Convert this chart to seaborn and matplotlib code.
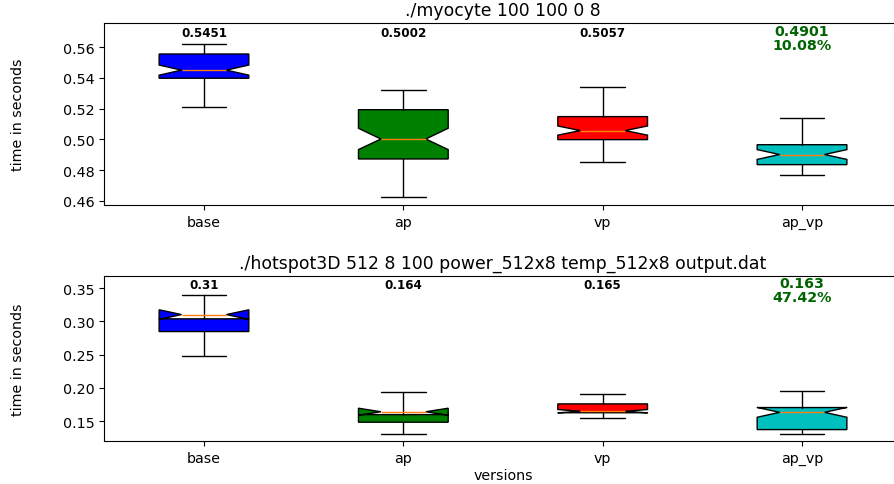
import matplotlib
matplotlib.use("Agg")
import matplotlib.pyplot as plt
import seaborn as sns

# ---------------- data ----------------
versions = ["base", "ap", "vp", "ap_vp"]
box_colors = ["b", "g", "r", "c"]

myocyte_title = "./myocyte 100 100 0 8"
myocyte_med = [0.5451, 0.5002, 0.5057, 0.4901]
myocyte_q1 = [0.5398, 0.4872, 0.4998, 0.4835]
myocyte_q3 = [0.5556, 0.5193, 0.5148, 0.4965]
myocyte_whislo = [0.5213, 0.4622, 0.4850, 0.4768]
myocyte_whishi = [0.5620, 0.5324, 0.5339, 0.5141]
myocyte_cilo = [0.5418, 0.4933, 0.5027, 0.4869]
myocyte_cihi = [0.5484, 0.5072, 0.5087, 0.4933]
myocyte_labels = ["0.5451", "0.5002", "0.5057", "0.4901"]
myocyte_speedup = "10.08%"
myocyte_yticks = [0.46, 0.48, 0.50, 0.52, 0.54, 0.56]

hotspot_title = "./hotspot3D 512 8 100 power_512x8 temp_512x8 output.dat"
hotspot_med = [0.3102, 0.1642, 0.1650, 0.1633]
hotspot_q1 = [0.2847, 0.1485, 0.1627, 0.1374]
hotspot_q3 = [0.3038, 0.1599, 0.1760, 0.1705]
hotspot_whislo = [0.2487, 0.1309, 0.1555, 0.1309]
hotspot_whishi = [0.3389, 0.1936, 0.1911, 0.1951]
hotspot_cilo = [0.3030, 0.1589, 0.1625, 0.1559]
hotspot_cihi = [0.3174, 0.1695, 0.1675, 0.1707]
hotspot_labels = ["0.31", "0.164", "0.165", "0.163"]
hotspot_speedup = "47.42%"
hotspot_yticks = [0.15, 0.20, 0.25, 0.30, 0.35]

# ---------------- style ----------------
sns.set_style("ticks", rc={
    "axes.edgecolor": "black", "axes.labelcolor": "black", "text.color": "black",
    "xtick.color": "black", "ytick.color": "black",
    "xtick.direction": "out", "ytick.direction": "out",
    "xtick.major.size": 3.2, "ytick.major.size": 3.5,
    "xtick.major.width": 0.8, "ytick.major.width": 0.8,
    "xtick.major.pad": 0.6, "ytick.major.pad": 1.6,
    "axes.linewidth": 0.8,
})
plt.rcParams["font.family"] = ["DejaVu Sans"]
plt.rcParams["font.size"] = 10.3

W, H = 894, 485
fig = plt.figure(figsize=(W / 100, H / 100), dpi=100)
left_px, width_px = 104.3, 797.4
ax1 = fig.add_axes([left_px / W, 1 - 206.0 / H, width_px / W, (206.0 - 24.0) / H])
ax2 = fig.add_axes([left_px / W, 1 - 442.3 / H, width_px / W, (442.3 - 277.3) / H])


def draw(ax, title, med, q1, q3, lo, hi, cilo, cihi, labels, speedup, yticks, ylim):
    stats = []
    for i, name in enumerate(versions):
        stats.append(dict(label=name, med=med[i], q1=q1[i], q3=q3[i],
                          whislo=lo[i], whishi=hi[i], cilo=cilo[i], cihi=cihi[i],
                          fliers=[]))
    art = ax.bxp(stats, positions=range(1, len(versions) + 1), widths=0.45,
                 shownotches=True, patch_artist=True,
                 boxprops=dict(edgecolor="black", linewidth=1.0),
                 whiskerprops=dict(color="black", linewidth=1.0),
                 capprops=dict(color="black", linewidth=1.0),
                 medianprops=dict(color="#ff7f0e", linewidth=1.0))
    for patch, col in zip(art["boxes"], box_colors):
        patch.set_facecolor(col)
    ax.set_xlim(0.5, len(versions) + 0.5)
    ax.set_ylim(*ylim)
    ax.set_yticks(yticks)
    ax.set_yticklabels([f"{t:.2f}" for t in yticks])
    ax.set_xticks(range(1, len(versions) + 1))
    ax.set_xticklabels(versions)
    ax.tick_params(labelsize=10.3)
    ax.set_title(title, fontsize=12.4)
    ax.set_ylabel("time in seconds", fontsize=10.3, labelpad=27)
    trans = ax.get_xaxis_transform()
    for i, lab in enumerate(labels):
        if i == len(labels) - 1:
            ax.text(i + 1, 0.918, lab + "\n" + speedup, transform=trans,
                    ha="center", va="center", fontsize=10.3, fontweight="bold",
                    color="darkgreen", linespacing=0.95)
        else:
            ax.text(i + 1, 0.95, lab, transform=trans, ha="center", va="center",
                    fontsize=8.6, fontweight="bold", color="black")


draw(ax1, myocyte_title, myocyte_med, myocyte_q1, myocyte_q3, myocyte_whislo,
     myocyte_whishi, myocyte_cilo, myocyte_cihi, myocyte_labels, myocyte_speedup,
     myocyte_yticks, (0.4572, 0.5758))
draw(ax2, hotspot_title, hotspot_med, hotspot_q1, hotspot_q3, hotspot_whislo,
     hotspot_whishi, hotspot_cilo, hotspot_cihi, hotspot_labels, hotspot_speedup,
     hotspot_yticks, (0.1198, 0.3677))
ax2.set_xlabel("versions", fontsize=10.3, labelpad=2)

fig.savefig("out.png", dpi=100)
